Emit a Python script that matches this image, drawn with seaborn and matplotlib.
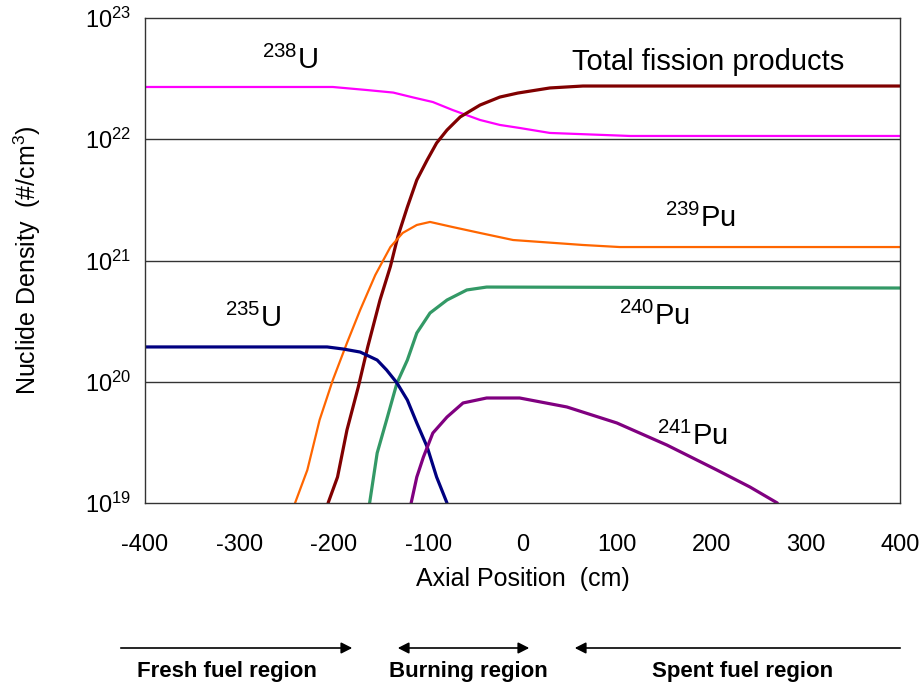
import numpy as np
import pandas as pd
import matplotlib
matplotlib.use('Agg')
import matplotlib.pyplot as plt
import seaborn as sns

# ==== DATA (log10 of nuclide density in #/cm3) ====
U238_X = [-400, -201, -165, -137, -116, -95, -74, -45, -24, -3, 29, 114, 400]
U238_LOG = [22.431, 22.431, 22.406, 22.385, 22.345, 22.307, 22.241, 22.159, 22.118,
            22.093, 22.052, 22.027, 22.027]

FP_X = [-206, -196, -186, -174, -164, -151, -140, -132, -122, -112, -101, -91,
        -80, -66, -45, -24, -5, 29, 64, 400]
FP_LOG = [19.0, 19.214, 19.602, 19.957, 20.287, 20.674, 20.950, 21.200, 21.441,
          21.664, 21.829, 21.969, 22.076, 22.184, 22.282, 22.348, 22.381, 22.423, 22.439,
          22.439]

PU239_X = [-241, -228, -215, -201, -186, -172, -156, -140, -127, -112, -98, -74,
           -45, -10, 64, 103, 400]
PU239_LOG = [19.0, 19.272, 19.685, 20.014, 20.320, 20.592, 20.880, 21.111, 21.227,
             21.293, 21.318, 21.276, 21.227, 21.169, 21.128, 21.111, 21.111]

PU240_X = [-162, -154, -144, -133, -122, -112, -98, -80, -59, -38, 400]
PU240_LOG = [19.0, 19.412, 19.685, 19.990, 20.179, 20.402, 20.567, 20.674, 20.757, 20.781,
             20.773]

U235_X = [-400, -207, -190, -172, -154, -144, -133, -122, -112, -101, -91, -80]
U235_LOG = [20.287, 20.287, 20.270, 20.245, 20.179, 20.097, 19.990, 19.849, 19.660, 19.462,
            19.214, 19.0]

PU241_X = [-118, -112, -105, -95, -80, -63, -38, -3, 47, 100, 153, 206, 241, 270]
PU241_LOG = [19.0, 19.214, 19.379, 19.577, 19.709, 19.825, 19.866, 19.866, 19.792, 19.660,
             19.478, 19.272, 19.132, 19.0]

X_TICKS = list(range(-400, 401, 100))
Y_TICKS = [1e19, 1e20, 1e21, 1e22, 1e23]
Y_TICK_LABELS = ['$10^{19}$', '$10^{20}$', '$10^{21}$', '$10^{22}$', '$10^{23}$']

SERIES = [
    ('238U', U238_X, U238_LOG, '#FF00FF', 1.6),
    ('FP', FP_X, FP_LOG, '#800000', 2.3),
    ('239Pu', PU239_X, PU239_LOG, '#FF6600', 1.6),
    ('240Pu', PU240_X, PU240_LOG, '#339966', 2.3),
    ('235U', U235_X, U235_LOG, '#000080', 2.3),
    ('241Pu', PU241_X, PU241_LOG, '#800080', 2.3),
]

sns.set_theme(style='white')
plt.rcParams['font.family'] = ['Liberation Sans', 'DejaVu Sans']
plt.rcParams['mathtext.fontset'] = 'custom'
plt.rcParams['mathtext.rm'] = 'Liberation Sans'
plt.rcParams['mathtext.it'] = 'Liberation Sans'
plt.rcParams['text.color'] = 'black'
plt.rcParams['axes.labelcolor'] = 'black'
plt.rcParams['xtick.color'] = 'black'
plt.rcParams['ytick.color'] = 'black'

fig = plt.figure(figsize=(9.22, 6.89), dpi=100)
ax = fig.add_axes([145 / 922, 1 - 503 / 689, 755 / 922, 485 / 689])

for name, xs, logs, color, lw in SERIES:
    df = pd.DataFrame({'x': xs, 'y': np.power(10.0, logs)})
    sns.lineplot(data=df, x='x', y='y', ax=ax, color=color, linewidth=lw,
                 sort=False, estimator=None)

ax.set_yscale('log')
ax.set_xlim(-400, 400)
ax.set_ylim(1e19, 1e23)
ax.set_yticks(Y_TICKS)
ax.set_yticklabels(Y_TICK_LABELS, fontsize=17)
ax.yaxis.set_minor_locator(matplotlib.ticker.NullLocator())
ax.set_xticks(X_TICKS)
ax.set_xticklabels([str(t) for t in X_TICKS], fontsize=17)
ax.set_xticks([-200, 0, 200], minor=True)
ax.tick_params(axis='x', which='major', length=0, pad=22)
ax.tick_params(axis='x', which='minor', direction='in', length=6, width=1, color='#333333')
ax.tick_params(axis='y', length=0, pad=10)
for g in [1e20, 1e21, 1e22]:
    ax.axhline(g, color='#333333', linewidth=1.0, zorder=0)
for s in ax.spines.values():
    s.set_color('#333333')
    s.set_linewidth(1.0)

ax.set_xlabel('Axial Position  (cm)', fontsize=18, labelpad=8)
ax.set_ylabel('Nuclide Density  (#/cm$^3$)', fontsize=18, labelpad=30)

# curve labels
lab = dict(ha='center', va='center', color='black')
ax.text(-246, 10**22.654, '$^{238}$U', fontsize=21, **lab)
ax.text(197, 10**22.637, 'Total fission products', fontsize=21, **lab)
ax.text(188, 10**21.35, '$^{239}$Pu', fontsize=21, **lab)
ax.text(140, 10**20.542, '$^{240}$Pu', fontsize=21, **lab)
ax.text(-286, 10**20.526, '$^{235}$U', fontsize=21, **lab)
ax.text(180, 10**19.553, '$^{241}$Pu', fontsize=21, **lab)

# region arrows below the chart
def fig_xy(px, py):
    return (px / 922, 1 - py / 689)

arrow = dict(arrowstyle='-|>,head_length=0.55,head_width=0.28', color='black', lw=1.2)
ax.annotate('', xy=fig_xy(355, 648), xytext=fig_xy(118, 648), xycoords='figure fraction',
            arrowprops=arrow)
ax.annotate('', xy=fig_xy(532, 648), xytext=fig_xy(395, 648), xycoords='figure fraction',
            arrowprops=dict(arrow, arrowstyle='<|-|>,head_length=0.55,head_width=0.28'))
ax.annotate('', xy=fig_xy(572, 648), xytext=fig_xy(903, 648), xycoords='figure fraction',
            arrowprops=arrow)
for px, txt in [(227, 'Fresh fuel region'), (468, 'Burning region'), (743, 'Spent fuel region')]:
    fig.text(*fig_xy(px, 672), txt, ha='center', va='center', fontsize=16, fontweight='bold')

fig.savefig('out.png', dpi=100)
